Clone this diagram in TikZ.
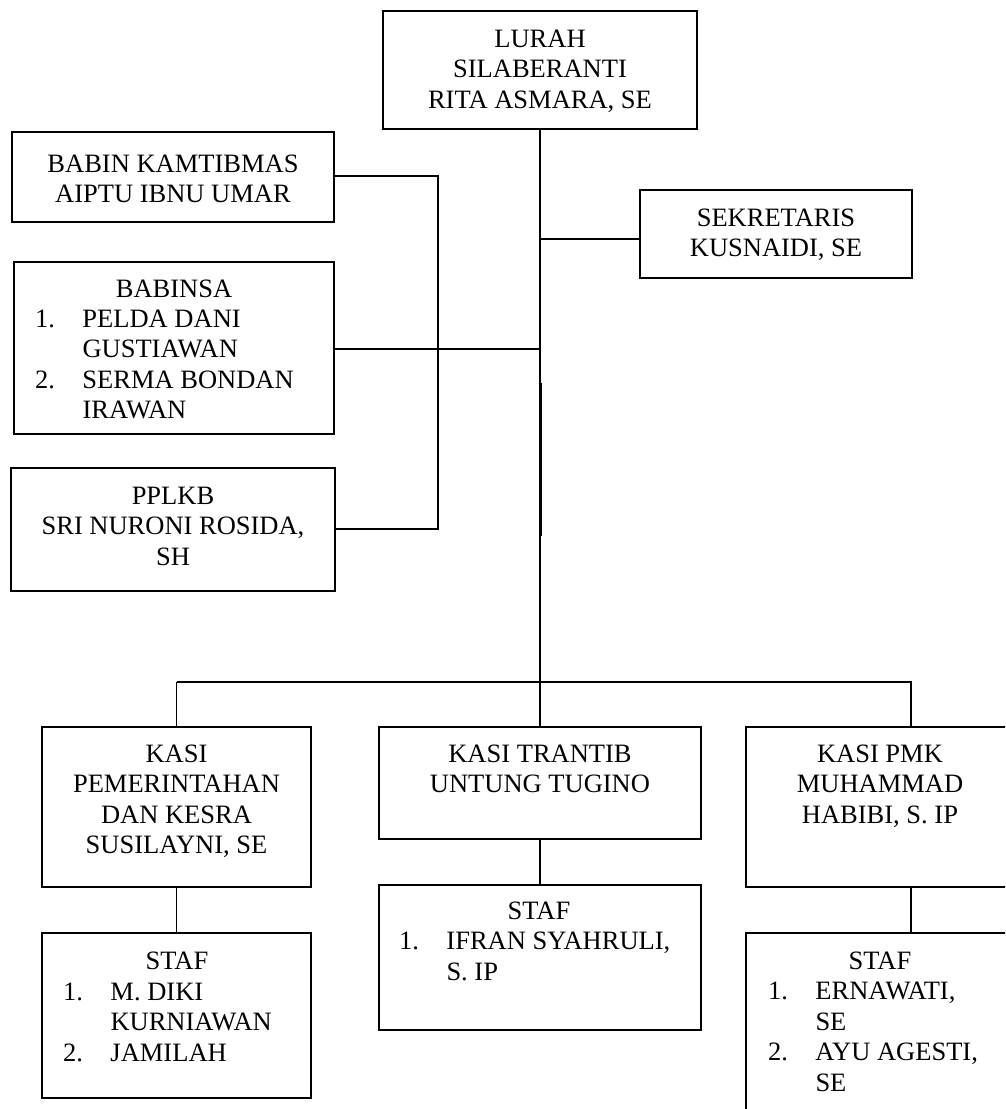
\documentclass[tikz,border=0pt]{standalone}
\usepackage{fontspec}
\setmainfont{Liberation Serif}
\usepackage{array}
\begin{document}
\begin{tikzpicture}[x=1pt,y=-1pt,
  box/.style={draw, line width=1.6pt, inner sep=0pt, outer sep=0pt, anchor=north west},
  txt/.style={inner sep=0pt, outer sep=0pt, font=\fontsize{26.5}{30.5}\selectfont},
  conn/.style={line width=1.3pt}]
\useasboundingbox (0,0) rectangle (1005,1109);
\clip (0,0) rectangle (1005,1109);
% boxes
\node[box, minimum width=314pt, minimum height=118pt] (lurah) at (383,11) {};
\node[box, minimum width=322pt, minimum height=90pt] (babin) at (12,132) {};
\node[box, minimum width=272pt, minimum height=88pt] (sekre) at (640,190) {};
\node[box, minimum width=320pt, minimum height=172pt] (babinsa) at (14,262) {};
\node[box, minimum width=324pt, minimum height=123pt] (pplkb) at (11,468) {};
\node[box, minimum width=269pt, minimum height=160pt] (kpem) at (42,727) {};
\node[box, minimum width=322pt, minimum height=112pt] (ktran) at (379,727) {};
\node[box, minimum width=268pt, minimum height=160pt] (kpmk) at (746,727) {};
\node[box, minimum width=269pt, minimum height=165pt] (spem) at (42,933) {};
\node[box, minimum width=322pt, minimum height=145pt] (stran) at (379,885) {};
\node[box, minimum width=268pt, minimum height=200pt] (spmk) at (746,933) {};
% texts
\node[txt, anchor=base] (lurahT) at (540,47) {\begin{tabular}[t]{@{}c@{}}LURAH\\SILABERANTI\\RITA ASMARA, SE\end{tabular}};
\node[txt, anchor=base] (babinT) at (173,172) {\begin{tabular}[t]{@{}c@{}}BABIN KAMTIBMAS\\AIPTU IBNU UMAR\end{tabular}};
\node[txt, anchor=base] (sekreT) at (776,226) {\begin{tabular}[t]{@{}c@{}}SEKRETARIS\\KUSNAIDI, SE\end{tabular}};
\node[txt, anchor=base] (babinsaT) at (174,297) {BABINSA};
\node[txt, anchor=base west] (babinsaL) at (35,327) {\begin{tabular}[t]{@{}p{47.5pt}@{}l@{}}1.&PELDA DANI\\&GUSTIAWAN\\2.&SERMA BONDAN\\&IRAWAN\end{tabular}};
\node[txt, anchor=base] (pplkbT) at (173,504) {\begin{tabular}[t]{@{}c@{}}PPLKB\\SRI NURONI ROSIDA,\\SH\end{tabular}};
\node[txt, anchor=base] (kpemT) at (176.5,762) {\begin{tabular}[t]{@{}c@{}}KASI\\PEMERINTAHAN\\DAN KESRA\\SUSILAYNI, SE\end{tabular}};
\node[txt, anchor=base] (ktranT) at (540,762) {\begin{tabular}[t]{@{}c@{}}KASI TRANTIB\\UNTUNG TUGINO\end{tabular}};
\node[txt, anchor=base] (kpmkT) at (880,762) {\begin{tabular}[t]{@{}c@{}}KASI PMK\\MUHAMMAD\\HABIBI, S. IP\end{tabular}};
\node[txt, anchor=base] (spemT) at (177,969) {STAF};
\node[txt, anchor=base west] (spemL) at (63,1000) {\begin{tabular}[t]{@{}p{47.5pt}@{}l@{}}1.&M. DIKI\\&KURNIAWAN\\2.&JAMILAH\end{tabular}};
\node[txt, anchor=base] (stranT) at (539,919) {STAF};
\node[txt, anchor=base west] (stranL) at (399,949.5) {\begin{tabular}[t]{@{}p{47.5pt}@{}l@{}}1.&IFRAN SYAHRULI,\\&S. IP\end{tabular}};
\node[txt, anchor=base] (spmkT) at (880,969) {STAF};
\node[txt, anchor=base west] (spmkL) at (768,999.5) {\begin{tabular}[t]{@{}p{47.5pt}@{}l@{}}1.&ERNAWATI,\\&SE\\2.&AYU AGESTI,\\&SE\end{tabular}};
% junction coordinates
\coordinate (jS) at (540,239);
\coordinate (jB) at (540,349);
\coordinate (jX1) at (541.2,383);
\coordinate (jX2) at (541.2,536);
\coordinate (h) at (540,682);
\coordinate (hL) at (177,682);
\coordinate (hR) at (911,682);
\coordinate (vTop) at (438,176);
\coordinate (vBot) at (438,529);
% connectors
\draw[conn] (lurah.south) -- (h) -- (ktran.north);
\draw[conn, line width=1.6pt] (jX1) -- (jX2);
\draw[conn] (jS) -- (jS -| sekre.west);
\draw[conn] (babinsa.east |- jB) -- (jB);
\draw[conn] (babin.east |- vTop) -- (vTop) -- (vBot) -- (pplkb.east |- vBot);
\draw[conn] (kpem.north |- hL) -- (hR) -- (hR |- kpmk.north);
\draw[conn] (kpem.north |- hL) -- (kpem.north);
\draw[conn] (kpem.south) -- (spem.north);
\draw[conn] (ktran.south) -- (stran.north);
\draw[conn] (hR |- kpmk.south) -- (hR |- spmk.north);
\end{tikzpicture}
\end{document}
